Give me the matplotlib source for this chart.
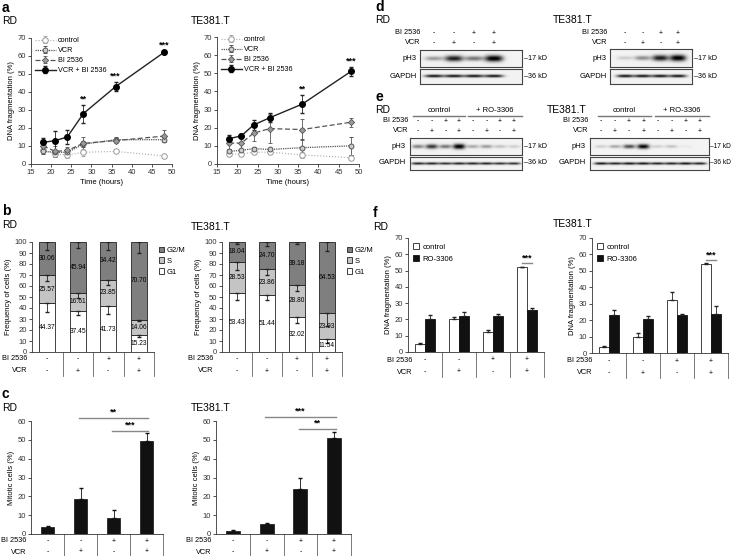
import numpy as np
import matplotlib
matplotlib.use("Agg")
import matplotlib.pyplot as plt
from matplotlib.transforms import blended_transform_factory

plt.rcParams.update({
    "font.family": ["Liberation Sans", "DejaVu Sans"],
    "font.size": 5.5,
    "axes.linewidth": 0.6,
    "axes.edgecolor": "#333333",
    "xtick.major.width": 0.6,
    "ytick.major.width": 0.6,
    "xtick.major.size": 2,
    "ytick.major.size": 2,
    "xtick.labelsize": 5.5,
    "ytick.labelsize": 5.5,
    "xtick.major.pad": 1.5,
    "ytick.major.pad": 1.5,
    "axes.labelsize": 5.5,
})

# ---------------- data ----------------
time_h = [18, 21, 24, 28, 36, 48]

rd_ctrl = [8, 5.5, 5, 6.5, 7, 4.5]
rd_ctrl_err = [1.5, 1.5, 1.5, 2, 0.5, 0.5]
rd_vcr = [7, 6.5, 6.5, 11, 13.5, 13.5]
rd_vcr_err = [1.5, 1.5, 2, 1.5, 1.5, 1.5]
rd_bi = [10, 7, 7.5, 11.5, 13, 15.5]
rd_bi_err = [3, 3, 2, 3.5, 1.5, 3.5]
rd_combo = [12, 13, 15, 28, 43, 62]
rd_combo_err = [2.5, 5.5, 4, 5, 2.5, 0.7]
rd_stars = ["", "", "", "**", "***", "***"]

te_ctrl = [5.5, 5.5, 6.5, 6.5, 5, 3.5]
te_ctrl_err = [1, 0.5, 1, 1, 1.5, 1.5]
te_vcr = [7, 7.5, 8.5, 8, 9, 10]
te_vcr_err = [1, 1, 1, 1, 5, 5]
te_bi = [11.5, 11.5, 17, 19.5, 19, 23]
te_bi_err = [3, 3, 4.5, 8, 6, 2.5]
te_combo = [14, 15.5, 21.5, 25.5, 33, 51]
te_combo_err = [2, 1, 2.5, 2.5, 5, 2.5]
te_stars = ["", "", "", "", "**", "***"]

bi_signs = ["-", "-", "+", "+"]
vcr_signs = ["-", "+", "-", "+"]

rd_g1 = [44.37, 37.45, 41.73, 15.23]
rd_s = [25.57, 16.61, 23.85, 14.06]
rd_g2m = [30.06, 45.94, 34.42, 70.70]
rd_g1_err = [8, 4, 7, 2]
rd_s_err = [5, 5, 5, 1.5]
rd_g2m_err = [7, 5, 7, 10]

te_g1 = [53.43, 51.44, 32.02, 11.54]
te_s = [28.53, 23.86, 28.80, 23.93]
te_g2m = [18.04, 24.70, 39.18, 64.53]
te_g1_err = [6, 4, 6, 3]
te_s_err = [7, 5, 5, 12]
te_g2m_err = [2, 4, 2, 8]

rd_mitotic = [3.5, 18.5, 8.5, 49.5]
rd_mitotic_err = [1, 6, 4, 4]
rd_mitotic_brackets = [(1, 3, 61.5, "**"), (2, 3, 54.7, "***")]
te_mitotic = [1.8, 5.5, 24, 51]
te_mitotic_err = [0.5, 0.5, 5.5, 3]
te_mitotic_brackets = [(1, 3, 62, "***"), (2, 3, 55.8, "**")]

rd_f_ctrl = [5, 20.5, 12, 52]
rd_f_ctrl_err = [0.5, 1, 1.5, 0.5]
rd_f_ro = [20.5, 22, 22, 25.5]
rd_f_ro_err = [2.5, 2.5, 1.5, 1.5]
te_f_ctrl = [3.5, 10, 32, 54]
te_f_ctrl_err = [0.5, 2, 5, 1]
te_f_ro = [23, 20.5, 23, 23.5]
te_f_ro_err = [3, 2, 0.5, 5]

# western blot band intensities (0 = none, 1 = saturated)
d_rd_ph3 = [0.35, 0.85, 0.5, 1.0]
d_rd_gapdh = [0.9, 0.9, 0.9, 0.9]
d_te_ph3 = [0.15, 0.4, 0.85, 1.0]
d_te_gapdh = [0.9, 0.9, 0.9, 0.9]
e_bi_signs = ["-", "-", "+", "+", "-", "-", "+", "+"]
e_vcr_signs = ["-", "+", "-", "+", "-", "+", "-", "+"]
e_rd_ph3 = [0.45, 0.75, 0.5, 1.0, 0.3, 0.35, 0.2, 0.15]
e_rd_gapdh = [0.85, 0.85, 0.8, 0.85, 0.85, 0.85, 0.8, 0.8]
e_te_ph3 = [0.15, 0.3, 0.65, 0.95, 0.15, 0.2, 0.04, 0.0]
e_te_gapdh = [0.9, 0.85, 0.9, 0.9, 0.85, 0.85, 0.9, 0.85]

# ---------------- layout helpers (pixel coords) ----------------
W, H = 734, 556
fig = plt.figure(figsize=(W / 100, H / 100), dpi=100)


def add_ax(l, t, r, b):
    return fig.add_axes([l / W, 1 - b / H, (r - l) / W, (b - t) / H])


def ftext(x, y, s, **kw):
    kw.setdefault("va", "center")
    fig.text(x / W, 1 - y / H, s, **kw)


def style_ax(ax):
    ax.spines["top"].set_visible(False)
    ax.spines["right"].set_visible(False)
    ax.tick_params(colors="#333333")


def sign_table(ax, rows_y, bottom_y, label_x, bi, vcr):
    tr = blended_transform_factory(ax.transData, fig.transFigure)
    for i in range(len(bi)):
        ax.text(i, 1 - rows_y[0] / H, bi[i], transform=tr, ha="center",
                va="center", fontsize=5)
        ax.text(i, 1 - rows_y[1] / H, vcr[i], transform=tr, ha="center",
                va="center", fontsize=5)
    y0 = ax.get_position().y0
    for xb in np.arange(len(bi)) + 0.5:
        ax.plot([xb, xb], [y0, 1 - bottom_y / H], transform=tr,
                color="#444444", lw=0.5, clip_on=False)
    ftext(label_x, rows_y[0], "BI 2536", ha="right", fontsize=5.3)
    ftext(label_x, rows_y[1], "VCR", ha="right", fontsize=5.3)


# ---------------- panel a ----------------
def timecourse(ax, ctrl, ce, vcr, ve, bi, be, combo, cbe, stars):
    ax.errorbar(time_h, ctrl, yerr=ce, color="#aaaaaa", ls=":", lw=0.8,
                marker="o", ms=4, mfc="white", mec="#999999", mew=0.7,
                capsize=1.5, elinewidth=0.6, label="control")
    ax.errorbar(time_h, vcr, yerr=ve, color="#555555", ls=(0, (1, 0.8)), lw=0.9,
                marker="o", ms=3.5, mfc="#cccccc", mec="#555555", mew=0.7,
                capsize=1.5, elinewidth=0.6, label="VCR")
    ax.errorbar(time_h, bi, yerr=be, color="#555555", ls=(0, (4, 2)), lw=0.9,
                marker="D", ms=3.2, mfc="#999999", mec="#555555", mew=0.6,
                capsize=1.5, elinewidth=0.6, label="BI 2536")
    ax.errorbar(time_h, combo, yerr=cbe, color="#222222", ls="-", lw=1.0,
                marker="o", ms=4.0, mfc="black", mec="black",
                capsize=1.5, elinewidth=0.6, label="VCR + BI 2536")
    for t, v, e, s in zip(time_h, combo, cbe, stars):
        if s:
            ax.text(t, v + e + 0.8, s, ha="center", va="bottom", fontsize=6.5,
                    fontweight="bold")
    ax.set_xlim(15, 50)
    ax.set_ylim(0, 70)
    ax.set_xticks(range(15, 51, 5))
    ax.set_yticks(range(0, 71, 10))
    ax.set_xlabel("Time (hours)", labelpad=2)
    ax.set_ylabel("DNA fragmentation (%)", labelpad=2)
    style_ax(ax)
    ax.legend(loc="upper left", bbox_to_anchor=(0.0, 1.04), frameon=False,
              fontsize=5.2, handlelength=2.8, labelspacing=0.4,
              handletextpad=0.35, borderaxespad=0.2)


ax = add_ax(31, 38, 172, 164)
timecourse(ax, rd_ctrl, rd_ctrl_err, rd_vcr, rd_vcr_err, rd_bi, rd_bi_err,
           rd_combo, rd_combo_err, rd_stars)
ax = add_ax(217, 37, 359, 164)
timecourse(ax, te_ctrl, te_ctrl_err, te_vcr, te_vcr_err, te_bi, te_bi_err,
           te_combo, te_combo_err, te_stars)

ftext(2, 8, "a", fontsize=10, fontweight="bold", ha="left")
ftext(2, 21, "RD", fontsize=7.5, ha="left")
ftext(191, 21, "TE381.T", fontsize=7.5, ha="left")


# ---------------- panel b ----------------
def cellcycle(ax, g1, s, g2m, g1e, se, g2e, rows_y, label_x):
    x = np.arange(4)
    kw = dict(width=0.52, edgecolor="#222222", linewidth=0.6)
    ax.bar(x, g1, color="white", label="G1", **kw)
    ax.bar(x, s, bottom=g1, color="#c4c4c4", label="S", **kw)
    tops_s = np.add(g1, s)
    ax.bar(x, g2m, bottom=tops_s, color="#7f7f7f", label="G2/M", **kw)
    tops = tops_s + np.array(g2m)
    ekw = dict(fmt="none", ecolor="#222222", elinewidth=0.6, capsize=1.5)
    ax.errorbar(x, g1, yerr=[g1e, [0] * 4], **ekw)
    ax.errorbar(x, tops_s, yerr=[se, [0] * 4], **ekw)
    ax.errorbar(x, tops, yerr=[g2e, [0] * 4], **ekw)
    for i in range(4):
        ax.text(x[i], g1[i] / 2, f"{g1[i]:.2f}", ha="center", va="center", fontsize=4.8)
        ax.text(x[i], g1[i] + s[i] / 2, f"{s[i]:.2f}", ha="center", va="center", fontsize=4.8)
        ax.text(x[i], tops_s[i] + g2m[i] / 2, f"{g2m[i]:.2f}", ha="center",
                va="center", fontsize=4.8)
    ax.set_xlim(-0.5, 3.5)
    ax.set_ylim(0, 100)
    ax.set_yticks(range(0, 101, 10))
    ax.set_xticks([])
    ax.set_ylabel("Frequency of cells (%)", labelpad=2)
    style_ax(ax)
    h, l = ax.get_legend_handles_labels()
    ax.legend(h[::-1], l[::-1], loc="upper left", bbox_to_anchor=(1.0, 1.0),
              frameon=False, fontsize=5.5, handlelength=0.7, handleheight=0.7,
              labelspacing=0.45, handletextpad=0.4, borderaxespad=0.2)
    sign_table(ax, rows_y, rows_y[1] + 5, label_x, bi_signs, vcr_signs)


ax = add_ax(32, 242, 154, 352)
cellcycle(ax, rd_g1, rd_s, rd_g2m, rd_g1_err, rd_s_err, rd_g2m_err, (359, 371), 27)
ax = add_ax(222, 242, 342, 352)
cellcycle(ax, te_g1, te_s, te_g2m, te_g1_err, te_s_err, te_g2m_err, (359, 371), 213)

ftext(2, 211, "b", fontsize=10, fontweight="bold", ha="left")
ftext(2, 225, "RD", fontsize=7.5, ha="left")
ftext(191, 227, "TE381.T", fontsize=7.5, ha="left")


# ---------------- panel c ----------------
def mitotic(ax, vals, errs, brackets, rows_y, label_x):
    x = np.arange(4)
    ax.bar(x, vals, width=0.42, color="#111111", edgecolor="#111111", lw=0.5)
    ax.errorbar(x, vals, yerr=[[0] * 4, errs], fmt="none", ecolor="#111111",
                elinewidth=0.6, capsize=1.5)
    for a, b, y, s in brackets:
        ax.plot([a - 0.05, b + 0.05], [y, y], color="#888888", lw=1.0, clip_on=False)
        ax.text((a + b) / 2, y + 0.8, s, ha="center", va="bottom", fontsize=6.5,
                fontweight="bold")
    ax.set_xlim(-0.5, 3.5)
    ax.set_ylim(0, 60)
    ax.set_yticks(range(0, 61, 10))
    ax.set_xticks([])
    ax.set_ylabel("Mitotic cells (%)", labelpad=2)
    style_ax(ax)
    sign_table(ax, rows_y, 556, label_x, bi_signs, vcr_signs)


ax = add_ax(31, 421, 163, 534)
mitotic(ax, rd_mitotic, rd_mitotic_err, rd_mitotic_brackets, (541, 552), 26)
ax = add_ax(216, 421, 351, 534)
mitotic(ax, te_mitotic, te_mitotic_err, te_mitotic_brackets, (541, 552), 211)

ftext(2, 394, "c", fontsize=10, fontweight="bold", ha="left")
ftext(2, 408, "RD", fontsize=7.5, ha="left")
ftext(191, 408, "TE381.T", fontsize=7.5, ha="left")


# ---------------- panel f ----------------
def rescue(ax, ctrl, ce, ro, re_, star_y, rows_y, label_x):
    x = np.arange(4)
    w = 0.3
    ax.bar(x - w / 2, ctrl, width=w, color="white", edgecolor="#222222", lw=0.6,
           label="control")
    ax.bar(x + w / 2, ro, width=w, color="#111111", edgecolor="#111111", lw=0.6,
           label="RO-3306")
    ekw = dict(fmt="none", ecolor="#222222", elinewidth=0.6, capsize=1.5)
    ax.errorbar(x - w / 2, ctrl, yerr=[[0] * 4, ce], **ekw)
    ax.errorbar(x + w / 2, ro, yerr=[[0] * 4, re_], **ekw)
    ax.plot([3 - w / 2, 3 + w / 2], [star_y, star_y], color="#888888", lw=1.0)
    ax.text(3, star_y + 0.6, "***", ha="center", va="bottom", fontsize=6.5,
            fontweight="bold")
    ax.set_xlim(-0.5, 3.5)
    ax.set_ylim(0, 70)
    ax.set_yticks(range(0, 71, 10))
    ax.set_xticks([])
    ax.set_ylabel("DNA fragmentation (%)", labelpad=2)
    style_ax(ax)
    ax.legend(loc="upper left", bbox_to_anchor=(0.0, 1.0), frameon=False,
              fontsize=5.5, handlelength=0.7, handleheight=0.7,
              labelspacing=0.6, handletextpad=0.5, borderaxespad=0.3)
    sign_table(ax, rows_y, rows_y[1] + 5, label_x, bi_signs, vcr_signs)


ax = add_ax(408, 238, 544, 352)
rescue(ax, rd_f_ctrl, rd_f_ctrl_err, rd_f_ro, rd_f_ro_err, 54.5, (360, 372), 412)
ax = add_ax(592, 238, 728, 353)
rescue(ax, te_f_ctrl, te_f_ctrl_err, te_f_ro, te_f_ro_err, 56.5, (361, 373), 592)

ftext(373, 213, "f", fontsize=10, fontweight="bold", ha="left")
ftext(373, 227, "RD", fontsize=7.5, ha="left")
ftext(553, 224, "TE381.T", fontsize=7.5, ha="left")


# ---------------- western blots (d, e) ----------------
def blot(box, lane_x0, lane_dx, intens, band_w, band_h):
    l, t, r, b = box
    ax = add_ax(l, t, r, b)
    xs = np.linspace(l, r, int((r - l) * 4))
    ys = np.linspace(t, b, int((b - t) * 4))
    X, Y = np.meshgrid(xs, ys)
    img = np.full(X.shape, 0.05)
    cy = (t + b) / 2
    for i, v in enumerate(intens):
        cx = lane_x0 + i * lane_dx
        hh = band_h * (0.5 + 0.5 * v)
        img += v * np.exp(-np.abs((X - cx) / band_w) ** 3) * np.exp(-((Y - cy) / hh) ** 2)
    ax.imshow(np.clip(img, 0, 1), cmap="gray_r", vmin=0, vmax=1,
              extent=(l, r, b, t), aspect="auto", interpolation="bilinear")
    ax.set_xlim(l, r)
    ax.set_ylim(b, t)
    ax.set_xticks([])
    ax.set_yticks([])
    for sp in ax.spines.values():
        sp.set_linewidth(0.8)
        sp.set_color("#444444")


def blot_signs(lane_x0, lane_dx, bi, vcr, rows_y, label_x):
    for i in range(len(bi)):
        ftext(lane_x0 + i * lane_dx, rows_y[0], bi[i], ha="center", fontsize=5)
        ftext(lane_x0 + i * lane_dx, rows_y[1], vcr[i], ha="center", fontsize=5)
    ftext(label_x, rows_y[0], "BI 2536", ha="right", fontsize=5.3)
    ftext(label_x, rows_y[1], "VCR", ha="right", fontsize=5.3)


def blot_labels(lx, rx, y1, y2, fs=5.2):
    ftext(lx, y1, "pH3", ha="right", fontsize=5.5)
    ftext(lx, y2, "GAPDH", ha="right", fontsize=5.5)
    ftext(rx, y1, "–17 kD", ha="left", fontsize=fs)
    ftext(rx, y2, "–36 kD", ha="left", fontsize=fs)


# d
ftext(375, 7, "d", fontsize=10, fontweight="bold", ha="left")
ftext(375, 20, "RD", fontsize=7.5, ha="left")
ftext(553, 20, "TE381.T", fontsize=7.5, ha="left")

blot((420, 50, 522, 67), 434, 20, d_rd_ph3, 9, 3.2)
blot((420, 69, 522, 84), 434, 20, d_rd_gapdh, 9.5, 1.4)
blot_signs(434, 20, bi_signs, vcr_signs, (33, 43), 420)
blot_labels(417, 524, 58, 76)

blot((610, 49, 692, 67), 625, 17.7, d_te_ph3, 8, 3.2)
blot((610, 69, 692, 84), 625, 17.7, d_te_gapdh, 8.5, 1.4)
blot_signs(625, 17.7, bi_signs, vcr_signs, (33, 43), 607)
blot_labels(607, 694, 58, 76)

# e
ftext(375, 97, "e", fontsize=10, fontweight="bold", ha="left")
ftext(375, 110, "RD", fontsize=7.5, ha="left")
ftext(547, 110, "TE381.T", fontsize=7.5, ha="left")


def header(x0, x1, y, s):
    ftext((x0 + x1) / 2, y - 6, s, ha="center", fontsize=5.5)
    fig.add_artist(plt.Line2D([x0 / W, x1 / W], [1 - y / H, 1 - y / H],
                              color="#777777", lw=1.0))


header(413, 465, 116, "control")
header(468, 522, 116, "+ RO-3306")
header(598, 651, 116, "control")
header(655, 709, 116, "+ RO-3306")

blot((410, 138, 522, 155), 418, 13.7, e_rd_ph3, 6, 2.6)
blot((410, 157, 522, 170), 418, 13.7, e_rd_gapdh, 6.8, 1.3)
blot_signs(418, 13.7, e_bi_signs, e_vcr_signs, (121, 131), 408)
blot_labels(406, 524, 147, 163)

blot((590, 138, 709, 155), 601, 14.1, e_te_ph3, 6, 2.4)
blot((590, 157, 709, 170), 601, 14.1, e_te_gapdh, 7, 1.3)
blot_signs(601, 14.1, e_bi_signs, e_vcr_signs, (121, 131), 588)
blot_labels(586, 710, 147, 163, fs=4.8)

fig.savefig("out.png", dpi=100)
